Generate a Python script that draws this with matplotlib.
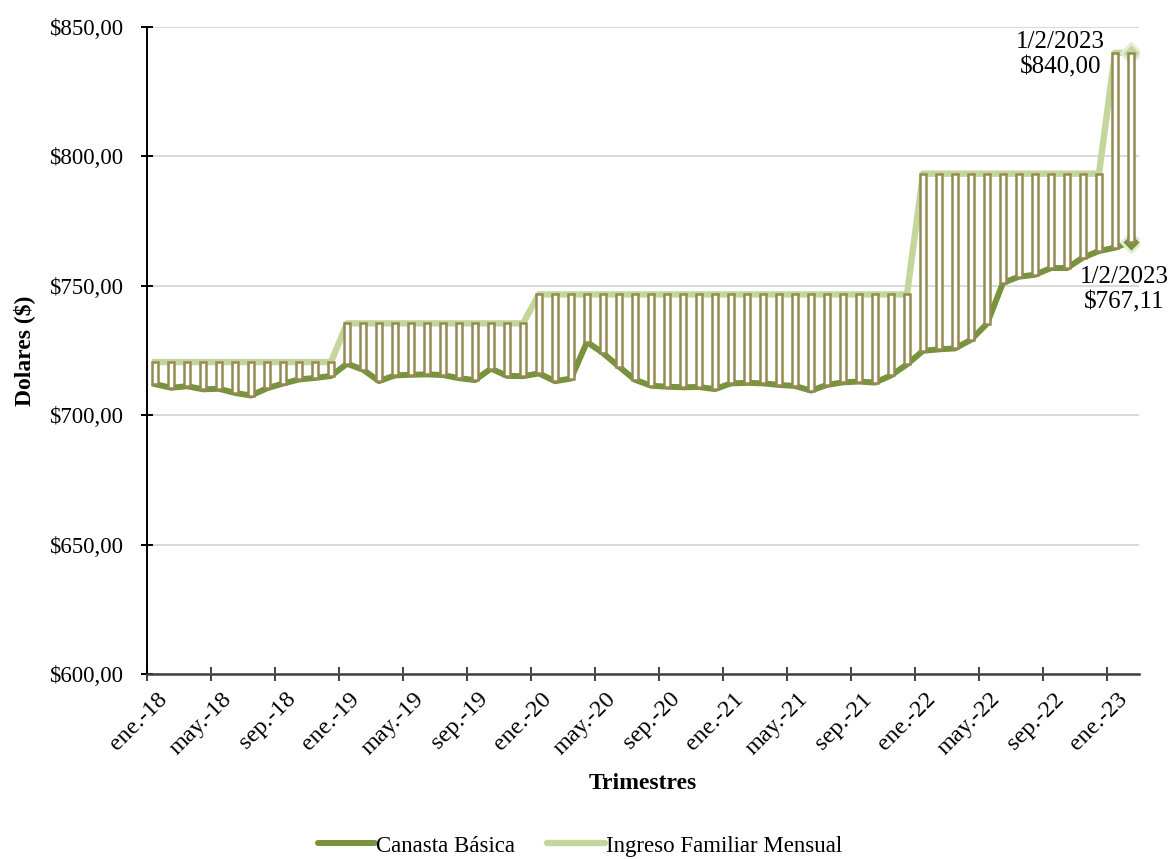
import numpy as np
import matplotlib
matplotlib.use("Agg")
import matplotlib.pyplot as plt
from matplotlib.ticker import FuncFormatter, FixedLocator
from matplotlib.transforms import ScaledTranslation

# Monthly series, January 2018 - February 2023
canasta_basica = [
    712.03, 710.60, 711.20, 710.00, 710.20, 708.60, 707.60, 710.40, 712.23, 713.81, 714.40, 715.16,  # 2018
    719.88, 717.60, 713.17, 715.39, 715.62, 715.78, 715.50, 714.31, 713.56, 718.00, 715.20, 715.08,  # 2019
    716.14, 713.14, 714.14, 728.28, 724.01, 718.74, 713.68, 711.42, 711.00, 710.80, 710.90, 710.08,  # 2020
    712.30, 712.50, 712.30, 711.70, 711.30, 709.50, 711.70, 712.70, 713.00, 712.60, 715.35, 719.65,  # 2021
    724.87, 725.45, 725.80, 729.14, 735.35, 751.14, 753.52, 754.26, 756.87, 756.86, 760.92, 763.44,  # 2022
    764.71, 767.11,                                                                                  # 2023
]
ingreso_familiar = [
    720.53, 720.53, 720.53, 720.53, 720.53, 720.53, 720.53, 720.53, 720.53, 720.53, 720.53, 720.53,
    735.47, 735.47, 735.47, 735.47, 735.47, 735.47, 735.47, 735.47, 735.47, 735.47, 735.47, 735.47,
    746.67, 746.67, 746.67, 746.67, 746.67, 746.67, 746.67, 746.67, 746.67, 746.67, 746.67, 746.67,
    746.67, 746.67, 746.67, 746.67, 746.67, 746.67, 746.67, 746.67, 746.67, 746.67, 746.67, 746.67,
    793.33, 793.33, 793.33, 793.33, 793.33, 793.33, 793.33, 793.33, 793.33, 793.33, 793.33, 793.33,
    840.00, 840.00,
]
tick_labels = [
    "ene.-18", "may.-18", "sep.-18", "ene.-19", "may.-19", "sep.-19", "ene.-20", "may.-20",
    "sep.-20", "ene.-21", "may.-21", "sep.-21", "ene.-22", "may.-22", "sep.-22", "ene.-23",
]
last_date = "1/2/2023"

FONT = "Liberation Serif"
plt.rcParams["font.family"] = [FONT, "DejaVu Serif"]

C_CANASTA = "#77933C"
C_INGRESO = "#C3D69B"
C_BAR = "#948A54"

canasta = np.array(canasta_basica)
ingreso = np.array(ingreso_familiar)
n = len(canasta)
x = np.arange(n) + 0.5  # each month sits centred between tick marks

fig = plt.figure(figsize=(11.70, 8.59), dpi=100)
ax = fig.add_axes([147 / 1170, 1 - 674 / 859, (1139 - 147) / 1170, (674 - 27) / 859])

ax.plot(x, ingreso, color=C_INGRESO, lw=4.6, zorder=2, solid_joinstyle="round",
        label="Ingreso Familiar Mensual")
ax.plot(x, canasta, color=C_CANASTA, lw=4.3, zorder=2.2, solid_joinstyle="round",
        label="Canasta Básica")

# up bars between basket cost and family income
ax.bar(x, ingreso - canasta, bottom=canasta, width=0.36, color="white",
       edgecolor=C_BAR, linewidth=1.8, zorder=3)

# end-point markers
ax.plot(x[-1], ingreso[-1], marker="D", ms=10, mfc=C_INGRESO, mec="#E4ECD4",
        mew=2, zorder=2.5, ls="none")
ax.plot(x[-1], canasta[-1], marker="D", ms=10, mfc=C_CANASTA, mec="#E4ECD4",
        mew=2, zorder=2.5, ls="none")


def money(v):
    return f"${v:.2f}".replace(".", ",")


ax.annotate(f"{last_date}\n{money(ingreso[-1])}", xy=(x[-1], ingreso[-1]),
            xytext=(-51, -1), textcoords="offset points", ha="center", va="center",
            fontsize=18, linespacing=1.2, zorder=5)
ax.annotate(f"{last_date}\n{money(canasta[-1])}", xy=(x[-1], canasta[-1]),
            xytext=(-5, -35), textcoords="offset points", ha="center", va="center",
            fontsize=18, linespacing=1.2, zorder=5, annotation_clip=False)

ax.set_xlim(0, n)
ax.set_ylim(600, 850)
ax.yaxis.set_major_locator(FixedLocator([600, 650, 700, 750, 800, 850]))
ax.yaxis.set_major_formatter(FuncFormatter(lambda v, p: money(v)))
ax.set_xticks(np.arange(0, 4 * len(tick_labels), 4))

ax.grid(axis="y", color="#D9D9D9", lw=1.4, zorder=0)
ax.set_axisbelow(True)
for side in ("top", "right"):
    ax.spines[side].set_visible(False)
ax.spines["left"].set_color("#000000")
ax.spines["left"].set_linewidth(1.4)
ax.spines["bottom"].set_color("#404040")
ax.spines["bottom"].set_linewidth(1.8)
ax.tick_params(axis="x", direction="inout", length=10, width=1.4, color="#404040", pad=4)
ax.tick_params(axis="y", direction="inout", length=9, width=1.4, color="#000000", pad=13)

ax.set_xticklabels(tick_labels, rotation=45, ha="right", va="top",
                   rotation_mode="anchor", fontsize=17.5)
shift = ScaledTranslation(0.10, -0.02, fig.dpi_scale_trans)
for lbl in ax.get_xticklabels():
    lbl.set_transform(lbl.get_transform() + shift)
for lbl in ax.get_yticklabels():
    lbl.set_fontsize(16.5)

ax.set_xlabel("Trimestres", fontsize=17, fontweight="bold", labelpad=10)
ax.set_ylabel("Dolares ($)", fontsize=17, fontweight="bold", labelpad=10)

handles, labels = ax.get_legend_handles_labels()
leg = fig.legend(handles[::-1], labels[::-1], loc="center", bbox_to_anchor=(580 / 1170, 1 - 846 / 859),
                 ncol=2, frameon=False, fontsize=16.5, handlelength=2.5, handletextpad=0.05,
                 columnspacing=1.4, borderaxespad=0)
for h in leg.get_lines():
    h.set_solid_capstyle("round")

fig.savefig("out.png", dpi=100)
